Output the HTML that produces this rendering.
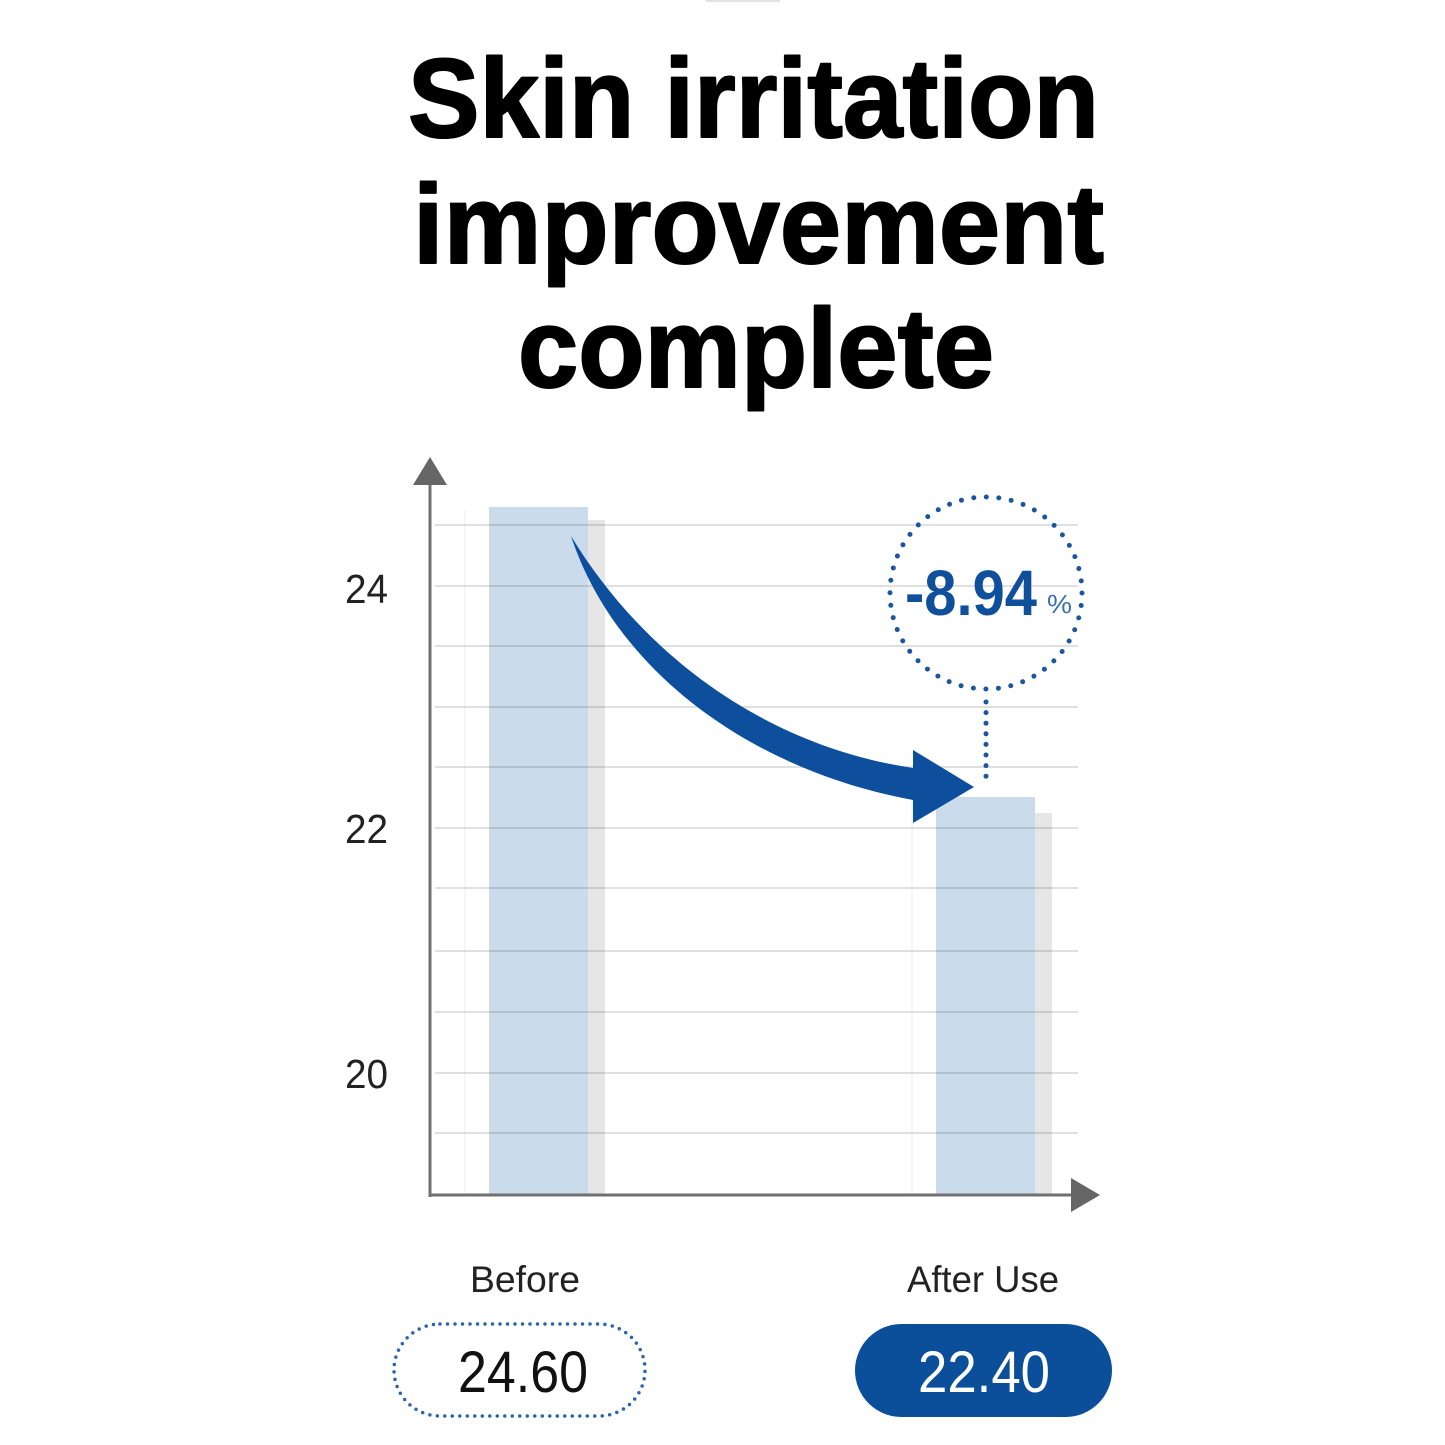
<!DOCTYPE html>
<html>
<head>
<meta charset="utf-8">
<style>
  html, body { margin: 0; padding: 0; background: #ffffff; }
  body { width: 1445px; height: 1445px; overflow: hidden; }
  svg { display: block; }
</style>
</head>
<body>
<svg width="1445" height="1445" viewBox="0 0 1445 1445" xmlns="http://www.w3.org/2000/svg">
  <rect x="0" y="0" width="1445" height="1445" fill="#ffffff"/>
  <!-- tiny top bar -->
  <rect x="706" y="0" width="74" height="2" fill="#e2e2e2"/>

  <!-- Title -->
  <g font-family="'Liberation Sans', Arial, sans-serif" font-weight="700" font-size="112" fill="#000" stroke="#000" stroke-width="2" stroke-linejoin="round">
    <text x="408" y="137" textLength="691" lengthAdjust="spacingAndGlyphs">Skin irritation</text>
    <text x="413" y="263" textLength="691" lengthAdjust="spacingAndGlyphs">improvement</text>
    <text x="518" y="387" textLength="476" lengthAdjust="spacingAndGlyphs">complete</text>
  </g>

  <!-- Bars shadows -->
  <rect x="588" y="520" width="17" height="675" fill="#e6e6e6"/>
  <rect x="1035" y="813" width="17" height="382" fill="#e6e6e6"/>
  <!-- faint vertical -->
  <rect x="464" y="510" width="2" height="685" fill="#f6f6f6"/>
  <rect x="911" y="800" width="2" height="395" fill="#f6f6f6"/>

  <!-- Bars -->
  <rect x="489" y="507" width="99" height="688" fill="#cadcec"/>
  <rect x="936" y="797" width="99" height="398" fill="#cadcec"/>

  <!-- Gridlines -->
  <g stroke="#000" stroke-opacity="0.12" stroke-width="2">
    <line x1="435" y1="525" x2="1078" y2="525"/>
    <line x1="435" y1="586" x2="1078" y2="586"/>
    <line x1="435" y1="646" x2="1078" y2="646"/>
    <line x1="435" y1="707" x2="1078" y2="707"/>
    <line x1="435" y1="767" x2="1078" y2="767"/>
    <line x1="435" y1="828" x2="1078" y2="828"/>
    <line x1="435" y1="888" x2="1078" y2="888"/>
    <line x1="435" y1="951" x2="1078" y2="951"/>
    <line x1="435" y1="1012" x2="1078" y2="1012"/>
    <line x1="435" y1="1073" x2="1078" y2="1073"/>
    <line x1="435" y1="1133" x2="1078" y2="1133"/>
  </g>

  <!-- Axes -->
  <line x1="430" y1="480" x2="430" y2="1197" stroke="#707070" stroke-width="3"/>
  <polygon points="430,457 413,485 447,485" fill="#666666"/>
  <line x1="429" y1="1195" x2="1076" y2="1195" stroke="#707070" stroke-width="3"/>
  <polygon points="1100,1195 1071,1178 1071,1212" fill="#666666"/>

  <!-- Y labels -->
  <g font-family="'Liberation Sans', Arial, sans-serif" font-size="41" fill="#222">
    <text x="345" y="603" textLength="43" lengthAdjust="spacingAndGlyphs">24</text>
    <text x="345" y="843" textLength="43" lengthAdjust="spacingAndGlyphs">22</text>
    <text x="345" y="1088" textLength="43" lengthAdjust="spacingAndGlyphs">20</text>
  </g>

  <!-- Curved arrow -->
  <path d="M571,536 C640,650 760,745 913,768 L913,750 L974,787 L913,823 L913,800 C750,770 615,670 571,536 Z" fill="#0d4f9c"/>

  <!-- Dotted circle and connector -->
  <circle cx="986" cy="593" r="96" fill="none" stroke="#1a55a0" stroke-width="5" stroke-linecap="round" stroke-dasharray="0 12.57"/>
  <line x1="986" y1="702" x2="986" y2="777" stroke="#1a55a0" stroke-width="5" stroke-linecap="round" stroke-dasharray="0 10.6"/>

  <!-- Percent text -->
  <text x="905" y="615" font-family="'Liberation Sans', Arial, sans-serif" font-weight="700" font-size="64" fill="#0f4f9b" textLength="132" lengthAdjust="spacingAndGlyphs">-8.94</text>
  <text x="1047" y="613" font-family="'Liberation Sans', Arial, sans-serif" font-size="26" fill="#3a6fb0" textLength="25" lengthAdjust="spacingAndGlyphs">%</text>

  <!-- Category labels -->
  <g font-family="'Liberation Sans', Arial, sans-serif" font-size="37" fill="#222">
    <text x="470" y="1292" textLength="110" lengthAdjust="spacingAndGlyphs">Before</text>
    <text x="907" y="1292" textLength="152" lengthAdjust="spacingAndGlyphs">After Use</text>
  </g>

  <!-- Value pills -->
  <rect x="394" y="1324" width="251" height="92" rx="46" ry="46" fill="#ffffff" stroke="#2b64a8" stroke-width="3.5" stroke-linecap="round" stroke-dasharray="0 7.5"/>
  <text x="458" y="1392" font-family="'Liberation Sans', Arial, sans-serif" font-size="58" fill="#111" textLength="130" lengthAdjust="spacingAndGlyphs">24.60</text>

  <rect x="855" y="1324" width="257" height="93" rx="46.5" ry="46.5" fill="#0b4f9b"/>
  <text x="918" y="1392" font-family="'Liberation Sans', Arial, sans-serif" font-size="58" fill="#ffffff" textLength="132" lengthAdjust="spacingAndGlyphs">22.40</text>
</svg>
</body>
</html>
